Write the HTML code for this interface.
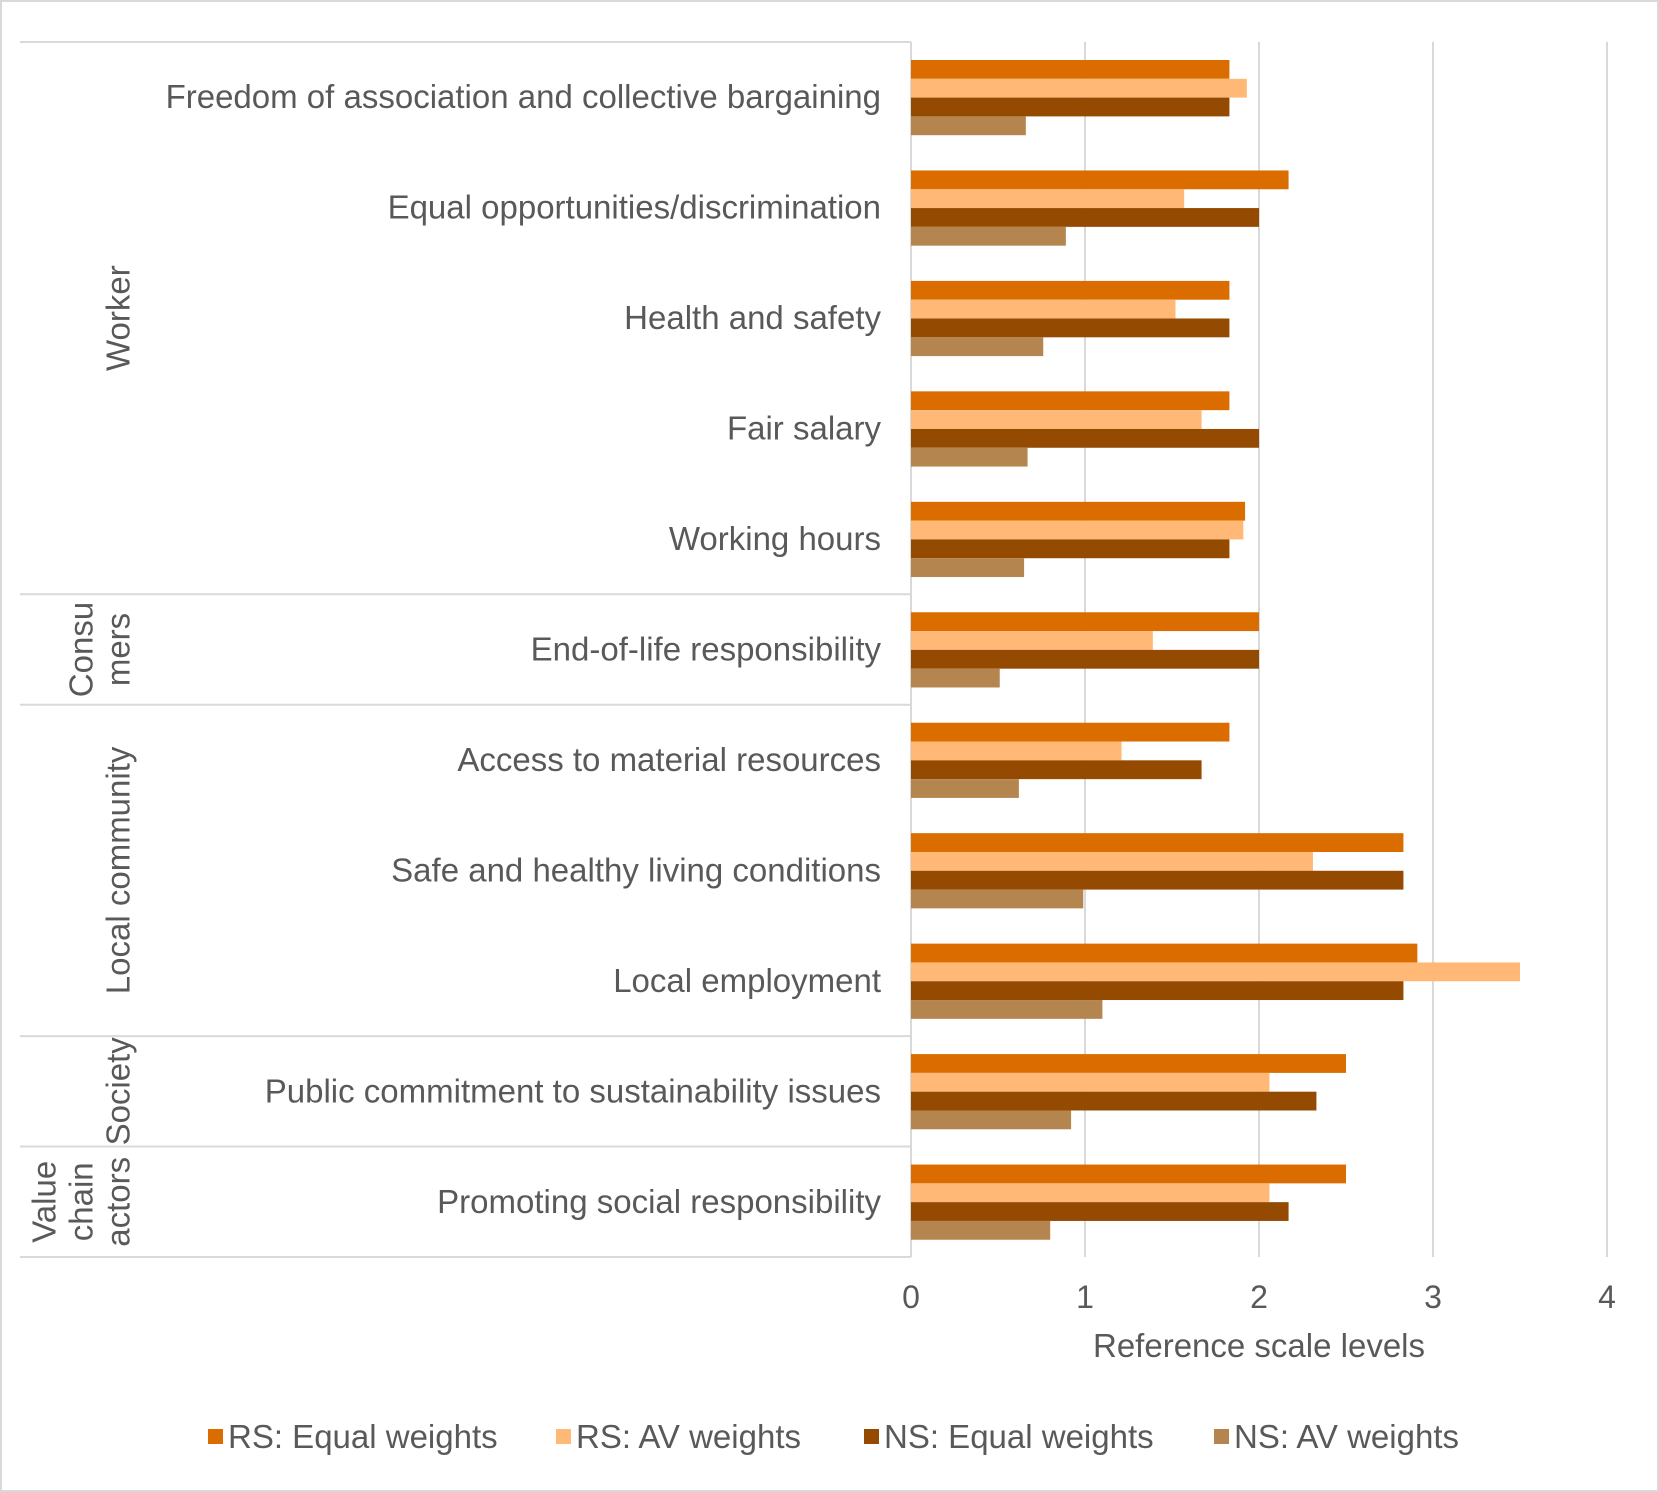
<!DOCTYPE html>
<html><head><meta charset="utf-8"><style>
html,body{margin:0;padding:0;background:#fff;}
svg{display:block;font-family:"Liberation Sans",Arial,sans-serif;}
</style></head><body>
<svg id="chart" width="1659" height="1492" viewBox="0 0 1659 1492">
<rect x="1" y="1" width="1657" height="1490" fill="#fff" stroke="#d9d9d9" stroke-width="2"/>
<g id="grid"></g><g id="bars"></g><g id="labels"></g><g id="legend"></g>
</svg>
<script>
const categories = ["Freedom of association and collective bargaining","Equal opportunities/discrimination","Health and safety","Fair salary","Working hours","End-of-life responsibility","Access to material resources","Safe and healthy living conditions","Local employment","Public commitment to sustainability issues","Promoting social responsibility"];
const seriesNames = ["RS: Equal weights","RS: AV weights","NS: Equal weights","NS: AV weights"];
const rsEqual = [1.83,2.17,1.83,1.83,1.92,2.0,1.83,2.83,2.91,2.50,2.50];
const rsAV    = [1.93,1.57,1.52,1.67,1.91,1.39,1.21,2.31,3.50,2.06,2.06];
const nsEqual = [1.83,2.0,1.83,2.0,1.83,2.0,1.67,2.83,2.83,2.33,2.17];
const nsAV    = [0.66,0.89,0.76,0.67,0.65,0.51,0.62,0.99,1.10,0.92,0.80];
const groups = [["Worker"],["Consu","mers"],["Local community"],["Society"],["Value","chain","actors"]];
const groupSizes = [5,1,3,1,1];
const xTicks = [0,1,2,3,4];
const colors = ["#DB6C00","#FFB875","#944A00","#B5854F"];

const NS="http://www.w3.org/2000/svg";
const X0=911, UNIT=174, TOP=42, BOT=1257;
const band=(BOT-TOP)/categories.length;
const xs=v=>X0+v*UNIT;
const yBand=i=>TOP+i*band;
function mk(tag,attrs,parent,text){const e=document.createElementNS(NS,tag);for(const k in attrs)e.setAttribute(k,attrs[k]);if(text!==undefined)e.textContent=text;parent.appendChild(e);return e;}
const grid=document.getElementById('grid'),bars=document.getElementById('bars'),labels=document.getElementById('labels'),legend=document.getElementById('legend');

xTicks.forEach(t=>{
  const l=mk('line',{x1:xs(t),x2:xs(t),y1:TOP,y2:BOT,stroke:'#d9d9d9','stroke-width':2},grid);
  
  
  const tx=mk('text',{x:xs(t),y:1308,'text-anchor':'middle','font-size':32,fill:'#595959'},labels,String(t));
  
  
});
let acc=0;
const bounds=[0];
groupSizes.forEach(s=>{acc+=s;bounds.push(acc);});
bounds.forEach((b,i)=>{
  const l=mk('line',{x1:20,x2:X0,y1:yBand(b),y2:yBand(b),stroke:'#d9d9d9','stroke-width':2},grid);
  
  
});
groups.forEach((lines,gi)=>{
  const cy=(yBand(bounds[gi])+yBand(bounds[gi+1]))/2;
  const n=lines.length;
  lines.forEach((ln,li)=>{
    const x=118-(n-1-li)*37;
    const t=mk('text',{x:x,y:cy,'text-anchor':'middle','font-size':33,fill:'#595959',transform:`rotate(-90 ${x} ${cy})`,dy:'0.35em'},labels,ln);
    
    
  });
});
const series=[rsEqual,rsAV,nsEqual,nsAV];
const barH=18.8, barOff=18;
categories.forEach((c,i)=>{
  const t=mk('text',{x:881,y:yBand(i)+band/2+11,'text-anchor':'end','font-size':33,fill:'#595959'},labels,c);
  
  
  series.forEach((s,si)=>{
    const r=mk('rect',{x:xs(0),y:yBand(i)+barOff+si*barH,width:xs(s[i])-xs(0),height:barH,fill:colors[si]},bars);
    
    
  });
});
const axis=mk('line',{x1:X0,x2:X0,y1:TOP,y2:BOT,stroke:'#d9d9d9','stroke-width':2},grid);


const at=mk('text',{x:1259,y:1357,'text-anchor':'middle','font-size':33,fill:'#595959'},labels,'Reference scale levels');


const legX=[208,556,864,1214];
seriesNames.forEach((n,i)=>{
  const r=mk('rect',{x:legX[i],y:1429,width:15,height:15,fill:colors[i]},legend);
  
  
  const t=mk('text',{x:legX[i]+20,y:1448,'font-size':33,fill:'#595959'},legend,n);
  
  
});
</script>
</body></html>
